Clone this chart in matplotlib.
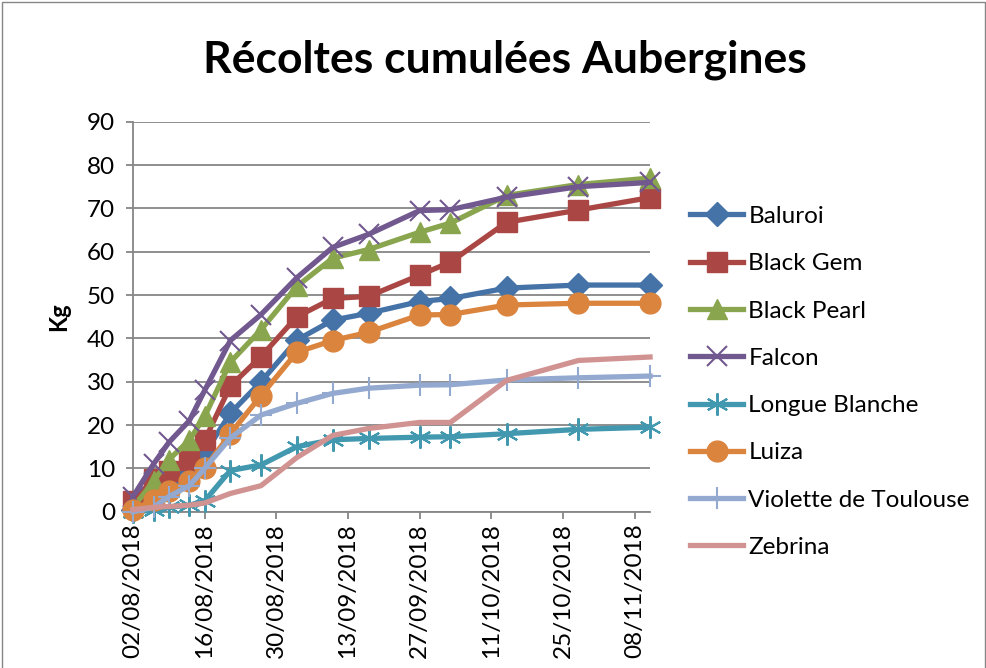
import pandas as pd
import matplotlib
matplotlib.use('Agg')
import matplotlib.pyplot as plt
import matplotlib.dates as mdates
from matplotlib.patches import Rectangle

plt.rcParams['font.family'] = ['Lato', 'DejaVu Sans']

# harvest dates
dates = ['02/08/2018', '06/08/2018', '09/08/2018', '13/08/2018', '16/08/2018',
         '21/08/2018', '27/08/2018', '03/09/2018', '10/09/2018', '17/09/2018',
         '27/09/2018', '03/10/2018', '14/10/2018', '28/10/2018', '11/11/2018']

# cumulated harvest (kg) per variety
baluroi = [0.5, 3, 6, 9, 13.5, 22.7, 30, 39.6, 44.2, 45.8, 48.5, 49.2, 51.6, 52.3, 52.3]
black_gem = [2.5, 7.5, 9.5, 12, 16.5, 29, 35.8, 45, 49.2, 49.7, 54.6, 57.6, 66.8, 69.6, 72.5]
black_pearl = [1, 7, 12, 16.5, 22, 34.5, 42, 52, 58.5, 60.5, 64.5, 66.6, 73, 75.5, 77]
falcon = [3.5, 11, 16, 21, 28, 39.5, 45.5, 54, 61, 64, 69.5, 69.7, 72.6, 75, 76]
longue_blanche = [0, 0.3, 1, 1.5, 2.5, 9.5, 10.8, 15, 16.6, 16.9, 17.2, 17.3, 18, 19, 19.5]
luiza = [0.3, 2.8, 4.8, 7, 10, 18, 26.8, 36.8, 39.5, 41.4, 45.4, 45.5, 47.7, 48.1, 48.1]
violette = [0, 1, 3.5, 6, 10, 17, 22.3, 25, 27.3, 28.5, 29.2, 29.3, 30.4, 30.9, 31.3]
zebrina = [0.5, 1, 1.2, 1.5, 2, 4.2, 6, 12.5, 17.6, 19.2, 20.6, 20.6, 30.3, 34.9, 35.7]

x = pd.to_datetime(dates, format='%d/%m/%Y')

series = [
    ('Baluroi', baluroi, '#4572A7', 'D', 12, 1),
    ('Black Gem', black_gem, '#AA4643', 's', 14, 1),
    ('Black Pearl', black_pearl, '#89A54E', '^', 15, 1),
    ('Falcon', falcon, '#71588F', 'x', 14, 1.5),
    ('Longue Blanche', longue_blanche, '#4198AF', (6, 2, 0), 16, 1.5),
    ('Luiza', luiza, '#DB843D', 'o', 15, 1),
    ('Violette de Toulouse', violette, '#93A9CF', '+', 16, 1.5),
    ('Zebrina', zebrina, '#D19392', None, 0, 1),
]

fig = plt.figure(figsize=(9.87, 6.68), dpi=100)
ax = fig.add_axes([0.1348, 0.2340, 0.5238, 0.5838])

for name, vals, col, mk, ms, mew in series:
    ax.plot(x, vals, color=col, lw=3.8, marker=mk, markersize=ms,
            markeredgewidth=mew, markeredgecolor=col, markerfacecolor=col,
            label=name, clip_on=False, zorder=3)

ax.set_ylim(0, 90)
ax.set_yticks(range(0, 91, 10))
ax.set_xlim(pd.Timestamp('2018-08-02'), pd.Timestamp('2018-11-11'))
ax.set_xticks(pd.date_range('2018-08-02', '2018-11-08', freq='14D'))
ax.xaxis.set_major_formatter(mdates.DateFormatter('%d/%m/%Y'))
plt.setp(ax.get_xticklabels(), rotation=90)

ax.grid(axis='y', color='#868686', lw=1.3)
ax.set_axisbelow(True)
for s in ['top', 'right']:
    ax.spines[s].set_visible(False)
for s in ['left', 'bottom']:
    ax.spines[s].set_color('#868686')
    ax.spines[s].set_linewidth(1.3)
ax.tick_params(axis='both', colors='#868686', length=5, width=1.3,
               labelcolor='black', labelsize=17.5)
ax.tick_params(axis='y', pad=8)

ax.set_ylabel('Kg', fontsize=17, fontweight='bold', labelpad=12)

fig.text(505 / 987, 1 - 60 / 668, 'Récoltes cumulées Aubergines',
         ha='center', va='center', fontsize=32, fontweight='bold')

ax.legend(loc='upper left', bbox_to_anchor=(1.035, 0.84), frameon=False,
          fontsize=17.5, handlelength=2.2, handletextpad=0.2, labelspacing=1.08)

fig.patches.append(Rectangle((2 / 987, -0.1), 983 / 987, 1.1 - 2 / 668,
                             transform=fig.transFigure, fill=False,
                             edgecolor='#868686', lw=1))

fig.savefig('out.png', dpi=100)
